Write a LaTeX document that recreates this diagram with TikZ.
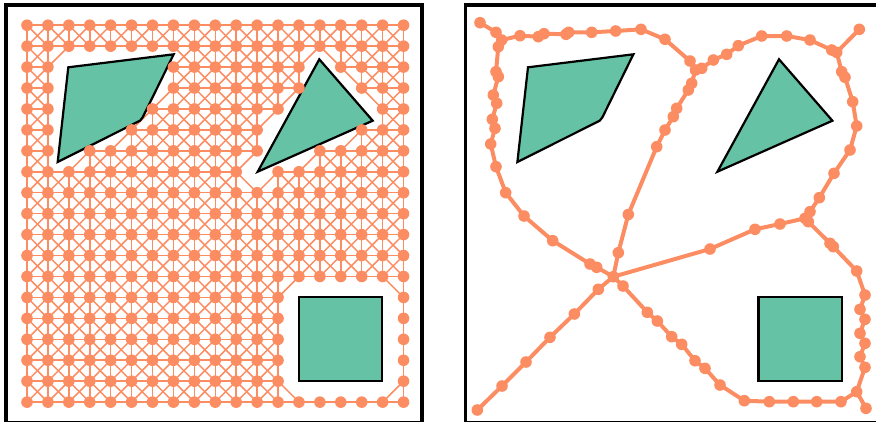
\documentclass[tikz,border=0pt]{standalone}
\definecolor{orng}{HTML}{FC8D62}
\definecolor{grn}{HTML}{66C2A5}
\newif\ifblk
\newcommand\sgnof[1]{\ifdim#1pt>0pt 1\else\ifdim#1pt<0pt -1\else 0\fi\fi}
\newcommand\segtest[8]{%
  \pgfmathsetmacro\oa{(#3-#1)*(#6-#2)-(#4-#2)*(#5-#1)}%
  \pgfmathsetmacro\ob{(#3-#1)*(#8-#2)-(#4-#2)*(#7-#1)}%
  \pgfmathsetmacro\oc{(#7-#5)*(#2-#6)-(#8-#6)*(#1-#5)}%
  \pgfmathsetmacro\od{(#7-#5)*(#4-#6)-(#8-#6)*(#3-#5)}%
  \ifnum\numexpr(\sgnof\oa)*(\sgnof\ob)\relax<1
    \ifnum\numexpr(\sgnof\oc)*(\sgnof\od)\relax<1 \blktrue\fi
  \fi}
\newcommand\quadtest[4]{%
  \segtest{#1}{#2}{#3}{#4}{1.974}{2.010}{7.012}{1.390}%
  \segtest{#1}{#2}{#3}{#4}{7.012}{1.390}{5.531}{4.398}%
  \segtest{#1}{#2}{#3}{#4}{5.531}{4.398}{5.402}{4.561}%
  \segtest{#1}{#2}{#3}{#4}{5.402}{4.561}{1.467}{6.533}%
  \segtest{#1}{#2}{#3}{#4}{1.467}{6.533}{1.974}{2.010}}
\newcommand\tritest[4]{%
  \segtest{#1}{#2}{#3}{#4}{13.972}{1.628}{16.525}{4.561}%
  \segtest{#1}{#2}{#3}{#4}{16.525}{4.561}{11.028}{6.996}%
  \segtest{#1}{#2}{#3}{#4}{11.028}{6.996}{13.972}{1.628}}
\newcommand\sqtest[4]{%
  \segtest{#1}{#2}{#3}{#4}{12.988}{12.995}{16.984}{12.995}%
  \segtest{#1}{#2}{#3}{#4}{16.984}{12.995}{16.984}{16.977}%
  \segtest{#1}{#2}{#3}{#4}{16.984}{16.977}{12.988}{16.977}%
  \segtest{#1}{#2}{#3}{#4}{12.988}{16.977}{12.988}{12.995}}
\newcommand\drawobstacles{%
  \filldraw[obst] (1.974,2.010) -- (7.012,1.390) -- (5.531,4.398) -- (5.402,4.561) -- (1.467,6.533) -- cycle;
  \filldraw[obst] (13.972,1.628) -- (16.525,4.561) -- (11.028,6.996) -- cycle;
  \filldraw[obst] (12.988,12.995) rectangle (16.984,16.977);}
\tikzset{
  obst/.style={fill=grn,draw=black,line width=2.2pt,line join=miter},
  gedge/.style={draw=orng,line width=1.5pt},
  gdot/.style={fill=orng},
  rpath/.style={draw=orng,line width=4pt,line join=round,line cap=round},
  frame/.style={draw=black,line width=3.6pt}
}
\begin{document}
\begin{tikzpicture}[x=1pt,y=-1pt]
\useasboundingbox (0,0) rectangle (876,421);
% removed grid nodes
\foreach \j/\lo/\hi in {2/2/6,3/2/6,4/2/5,5/2/4,6/2/2,2/14/14,3/14/15,4/13/16,5/12/15,6/12/13,7/11/11,13/13/17,14/13/17,15/13/17,16/13/17,17/13/17}{%
  \foreach \i in {\lo,...,\hi}{\expandafter\gdef\csname rm-\i-\j\endcsname{}}}
% left panel
\begin{scope}[shift={(27,25.2)},x=20.92pt,y=-20.94pt]
\foreach \i in {0,...,18}{\foreach \j in {0,...,18}{\coordinate (g-\i-\j) at (\i,\j);}}
\foreach \i in {0,...,18}{%
 \foreach \j in {0,...,18}{%
  \ifcsname rm-\i-\j\endcsname\else
   \foreach \di/\dj in {1/0,0/1,1/1,1/-1}{%
    \edef\ii{\the\numexpr\i+\di\relax}%
    \edef\jj{\the\numexpr\j+\dj\relax}%
    \blkfalse
    \ifnum\ii>18 \blktrue\fi
    \ifnum\jj>18 \blktrue\fi
    \ifnum\jj<0 \blktrue\fi
    \ifblk\else
     \ifcsname rm-\ii-\jj\endcsname\blktrue\fi
    \fi
    \ifblk\else
     \ifnum\i<9 \ifnum\j<9 \quadtest{\i}{\j}{\ii}{\jj}\fi\fi
     \ifnum\i>8 \ifnum\j<9 \tritest{\i}{\j}{\ii}{\jj}\fi\fi
     \ifnum\i>10 \ifnum\j>10 \sqtest{\i}{\j}{\ii}{\jj}\fi\fi
    \fi
    \ifblk\else\draw[gedge] (g-\i-\j) -- (g-\ii-\jj);\fi
   }%
  \fi
 }%
}
\drawobstacles
\foreach \i in {0,...,18}{\foreach \j in {0,...,18}{%
  \ifcsname rm-\i-\j\endcsname\else\fill[gdot] (g-\i-\j) circle[radius=5.8pt];\fi}}
\end{scope}
% right panel obstacles
\begin{scope}[shift={(486.7,25.2)},x=20.92pt,y=-20.94pt]
\drawobstacles
\end{scope}
% right panel roadmap
\foreach \n/\x/\y in {a0/480/22.7,a1/496/32.3,J1/501.7/40,b1/520/35.7,b2/538.3/36.7,b3/544/33.7,b4/566/34.3,b5/568.7/32.3,b6/591.7/32.3,b7/615.7/31,b8/641/29.3,b9/665/39.3,b10/690/61,J3/695.5/70,
 c1/701.7/68.3,c2/713.3/60,c3/726.7/54.3,c4/738.3/45.7,c5/761.7/36,c6/786.7/36,c7/810/40,c8/831.7/50,J4/836.7/52.3,d1/859.3/29.3,
 e1/841.7/71.7,e2/845/77.3,e3/852.7/101.7,e4/856.7/126,e5/850/150,e6/834/173.3,e7/819.3/197.7,e8/810/211.7,J5/805/218.3,
 g1/780/224,g2/755/229.3,g3/710/249,J2/613.3/276.7,
 f0/808.3/221.7,f1/830/243.3,f2/833.3/246.7,f3/856.7/271,f4/865/295,f5/860/309.3,f6/865/319.3,f7/860/333.3,f8/865/343.3,f9/860/356.7,f10/865/367.3,J6/856.7/391.7,h1/866/408.3,
 i1/841/401.7,i2/816.7/401.7,i3/793.3/401.7,i4/769.3/401.7,i5/744.3/400.7,i6/720/385,i7/705/368.3,i8/695/360.7,i9/681.7/344.3,i10/671.7/336.7,i11/657.3/321,i12/647.3/312.3,i13/623/286,
 j1/598.3/289.3,j2/574.3/314,j3/550/337.3,j4/526/362,j5/502/386,j6/477.3/410,
 k1/596.7/267.3,k2/590/264,k3/552.7/240.7,k4/524/216,k5/505.7/192.7,k6/496/166.7,k7/490.7/144,k8/495/128.3,k9/492.3/119.3,k10/496.7/103.3,k11/493.3/95,k12/498.3/76.7,k13/496/71.7,k14/498.3/46.7,
 l1/618.3/252.7,l2/628.3/214.5,l3/656.7/146.7,l4/665/130,l5/673.3/116.7,l6/676.7/108.3,l7/688.3/90,l8/691.7/83.3}
 {\coordinate (\n) at (\x,\y);}
\draw[rpath] (a0) -- (a1) -- (J1) -- (b1) -- (b2) -- (b3) -- (b4) -- (b5) -- (b6) -- (b7) -- (b8) -- (b9) -- (b10) -- (J3);
\draw[rpath] (J3) -- (c1) -- (c2) -- (c3) -- (c4) -- (c5) -- (c6) -- (c7) -- (c8) -- (J4);
\draw[rpath] (J4) -- (d1);
\draw[rpath] (J4) -- (e1) -- (e2) -- (e3) -- (e4) -- (e5) -- (e6) -- (e7) -- (e8) -- (J5);
\draw[rpath] (J5) -- (g1) -- (g2) -- (g3) -- (J2);
\draw[rpath] (J5) -- (f0) -- (f1) -- (f2) -- (f3) -- (f4) -- (f5) -- (f6) -- (f7) -- (f8) -- (f9) -- (f10) -- (J6);
\draw[rpath] (J6) -- (h1);
\draw[rpath] (J6) -- (i1) -- (i2) -- (i3) -- (i4) -- (i5) -- (i6) -- (i7) -- (i8) -- (i9) -- (i10) -- (i11) -- (i12) -- (i13) -- (J2);
\draw[rpath] (J2) -- (j1) -- (j2) -- (j3) -- (j4) -- (j5) -- (j6);
\draw[rpath] (J2) -- (k1) -- (k2) -- (k3) -- (k4) -- (k5) -- (k6) -- (k7) -- (k8) -- (k9) -- (k10) -- (k11) -- (k12) -- (k13) -- (k14) -- (J1);
\draw[rpath] (J2) -- (l1) -- (l2) -- (l3) -- (l4) -- (l5) -- (l6) -- (l7) -- (l8) -- (J3);
\foreach \n in {a0,a1,J1,b1,b2,b3,b4,b5,b6,b7,b8,b9,b10,J3,c1,c2,c3,c4,c5,c6,c7,c8,J4,d1,e1,e2,e3,e4,e5,e6,e7,e8,J5,g1,g2,g3,J2,f0,f1,f2,f3,f4,f5,f6,f7,f8,f9,f10,J6,h1,i1,i2,i3,i4,i5,i6,i7,i8,i9,i10,i11,i12,i13,j1,j2,j3,j4,j5,j6,k1,k2,k3,k4,k5,k6,k7,k8,k9,k10,k11,k12,k13,k14,l1,l2,l3,l4,l5,l6,l7,l8}
 {\fill[gdot] (\n) circle[radius=5.8pt];}
% frames
\draw[frame] (5.7,5) rectangle (422.2,422.8);
\draw[frame] (465.6,5) rectangle (882.1,422.8);
\end{tikzpicture}
\end{document}
